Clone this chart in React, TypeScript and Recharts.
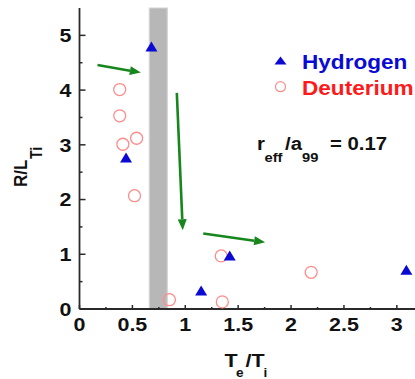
import React from "react";
import {
  ScatterChart,
  Scatter,
  XAxis,
  YAxis,
  ReferenceArea,
  ReferenceLine,
  Customized,
} from "recharts";

// values
const hydrogenTe = [0.68, 0.44, 1.15, 1.42, 3.09];
const hydrogenR = [4.78, 2.75, 0.32, 0.96, 0.7];
const deuteriumTe = [0.38, 0.38, 0.41, 0.54, 0.52, 0.85, 1.34, 1.35, 2.19];
const deuteriumR = [4.01, 3.53, 3.01, 3.12, 2.07, 0.17, 0.97, 0.13, 0.67];

const bandFrom = 0.66;
const bandTo = 0.83;

// green arrows: [x1, y1, x2, y2] in data units
const arrows = [
  [0.17, 4.46, 0.58, 4.32],
  [0.92, 3.95, 0.976, 1.44],
  [1.17, 1.38, 1.755, 1.22],
];

const xTicks = [0, 0.25, 0.5, 0.75, 1, 1.25, 1.5, 1.75, 2, 2.25, 2.5, 2.75, 3];
const yTicks = [0, 0.5, 1, 1.5, 2, 2.5, 3, 3.5, 4, 4.5, 5];

const hydrogen = hydrogenTe.map((x, i) => ({ x, y: hydrogenR[i] }));
const deuterium = deuteriumTe.map((x, i) => ({ x, y: deuteriumR[i] }));

const FONT = "'Liberation Sans', Arial, sans-serif";
const AXIS = "#2a2a2a";
const GREEN = "#17861c";
const BLUE = "#0a0ad2";
const RED = "#ff1a1a";
const PINK = "#ff8c8c";
// the source figure is stretched sideways a little, text included
const SX = 1.13;

const isMajor = (v: number) => Math.abs(v * 2 - Math.round(v * 2)) < 1e-6;

const SText = ({ x, y, children, ...rest }: any) => (
  <text transform={`translate(${x},${y}) scale(${SX},1)`} fontFamily={FONT} fontWeight="bold" {...rest}>
    {children}
  </text>
);

const BottomTick = (props: any) => {
  const { x, y, payload } = props;
  const major = isMajor(payload.value);
  return (
    <g>
      <line x1={x} x2={x} y1={y} y2={y - (major ? 4 : 2)} stroke={AXIS} strokeWidth={1.5} />
      {major && (
        <SText x={x} y={y + 22} textAnchor="middle" fontSize={19} fill="#111">
          {payload.value}
        </SText>
      )}
    </g>
  );
};

const TopTick = (props: any) => {
  const { x, y, payload } = props;
  return <line x1={x} x2={x} y1={y} y2={y + (isMajor(payload.value) ? 5 : 3)} stroke={AXIS} strokeWidth={1.5} />;
};

const LeftTick = (props: any) => {
  const { x, y, payload } = props;
  const major = Number.isInteger(payload.value);
  return (
    <g>
      <line x1={x} x2={x + (major ? 6 : 3)} y1={y} y2={y} stroke={AXIS} strokeWidth={1.5} />
      {major && (
        <SText x={x - 8} y={y + 6.8} textAnchor="end" fontSize={19} fill="#111">
          {payload.value}
        </SText>
      )}
    </g>
  );
};

const Triangle = (props: any) => {
  const { cx, cy } = props;
  return <polygon points={`${cx},${cy - 6} ${cx - 6},${cy + 4} ${cx + 6},${cy + 4}`} fill={BLUE} />;
};

const OpenCircle = (props: any) => {
  const { cx, cy } = props;
  return <circle cx={cx} cy={cy} r={6} fill="none" stroke={PINK} strokeWidth={1.3} />;
};

const Arrow = (props: any) => {
  const { x1, y1, x2, y2 } = props;
  const ang = Math.atan2(y2 - y1, x2 - x1);
  const len = 11;
  const half = 4.5;
  const bx = x2 - len * Math.cos(ang);
  const by = y2 - len * Math.sin(ang);
  const px = -Math.sin(ang) * half;
  const py = Math.cos(ang) * half;
  return (
    <g>
      <line x1={x1} y1={y1} x2={bx} y2={by} stroke={GREEN} strokeWidth={2.6} />
      <polygon points={`${x2},${y2} ${bx + px},${by + py} ${bx - px},${by - py}`} fill={GREEN} />
    </g>
  );
};

const Labels = () => (
  <g>
    {/* legend */}
    <polygon points="280.5,56.5 274.5,64.5 286.5,64.5" fill={BLUE} />
    <SText x={302} y={68.5} fontSize={20} fill={BLUE}>Hydrogen</SText>
    <circle cx={280.5} cy={86.7} r={5} fill="none" stroke={PINK} strokeWidth={1.2} />
    <SText x={302} y={94.5} fontSize={20} fill={RED}>Deuterium</SText>

    {/* annotation */}
    <SText x={257} y={150} fontSize={18} fill="#111">r</SText>
    <SText x={264.5} y={162} fontSize={13} fill="#111">eff</SText>
    <SText x={285} y={150} fontSize={18} fill="#111">/a</SText>
    <SText x={302} y={162} fontSize={13} fill="#111">99</SText>
    <SText x={330} y={150} fontSize={18} fill="#111">= 0.17</SText>

    {/* axis titles */}
    <SText x={224.5} y={366.5} fontSize={19} fill="#111">T</SText>
    <SText x={236} y={377} fontSize={12} fill="#111">e</SText>
    <SText x={245.5} y={366.5} fontSize={19} fill="#111">/T</SText>
    <SText x={263.5} y={377} fontSize={12} fill="#111">i</SText>
    <text transform={`translate(27,187) scale(${SX},1) rotate(-90)`} fontFamily={FONT} fontWeight="bold" fontSize={17} fill="#111">
      R/L
    </text>
    <text transform={`translate(42,159) scale(${SX},1) rotate(-90)`} fontFamily={FONT} fontWeight="bold" fontSize={14} fill="#111">
      Ti
    </text>
  </g>
);

export default function App() {
  return (
    <div style={{ position: "absolute", left: 0, top: 0, width: 415, height: 379, overflow: "hidden", background: "#fff" }}>
      <ScatterChart width={418} height={379} margin={{ top: 8, right: 0, bottom: 0, left: 0 }}>
        <XAxis
          type="number"
          dataKey="x"
          domain={[0, 3.2]}
          allowDataOverflow
          ticks={xTicks}
          interval={0}
          height={70}
          tickSize={0}
          tickMargin={0}
          tickLine={false}
          tick={<BottomTick />}
          axisLine={{ stroke: AXIS, strokeWidth: 1.8 }}
        />
        <XAxis
          xAxisId="top"
          orientation="top"
          type="number"
          domain={[0, 3.2]}
          allowDataOverflow
          ticks={xTicks}
          interval={0}
          height={0}
          tickSize={0}
          tickMargin={0}
          tickLine={false}
          tick={<TopTick />}
          axisLine={{ stroke: AXIS, strokeWidth: 1.8 }}
        />
        <YAxis
          type="number"
          dataKey="y"
          domain={[0, 5.5]}
          allowDataOverflow
          ticks={yTicks}
          interval={0}
          width={79.5}
          tickSize={0}
          tickMargin={0}
          tickLine={false}
          tick={<LeftTick />}
          axisLine={{ stroke: AXIS, strokeWidth: 1.8 }}
        />
        <ReferenceArea x1={bandFrom} x2={bandTo} fill="#b7b7b7" fillOpacity={1} stroke="#d4d4d4" strokeWidth={1.2} />
        {arrows.map((a, i) => (
          <ReferenceLine
            key={i}
            segment={[{ x: a[0], y: a[1] }, { x: a[2], y: a[3] }]}
            shape={<Arrow />}
          />
        ))}
        <Scatter name="Deuterium" data={deuterium} shape={<OpenCircle />} isAnimationActive={false} />
        <Scatter name="Hydrogen" data={hydrogen} shape={<Triangle />} isAnimationActive={false} />
        <Customized component={<Labels />} />
      </ScatterChart>
    </div>
  );
}
